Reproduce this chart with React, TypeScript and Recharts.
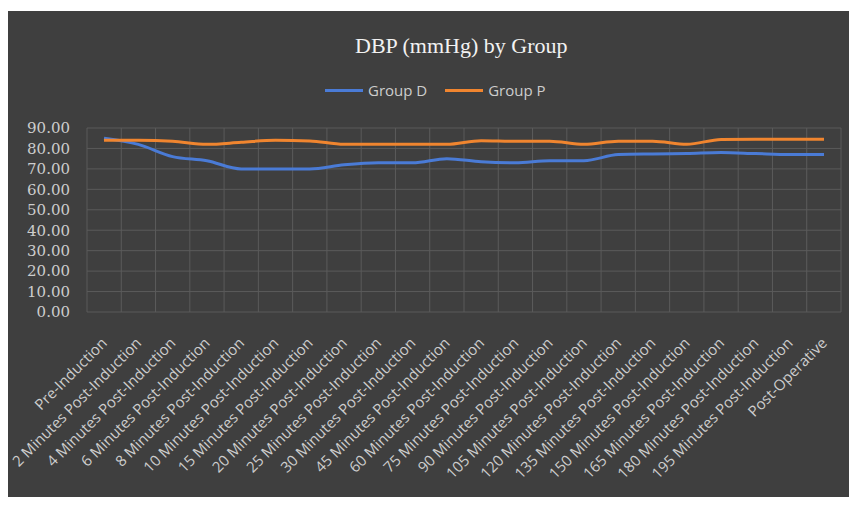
import React from 'react';
import { LineChart, Line, XAxis, YAxis, CartesianGrid } from 'recharts';

const CATEGORIES = [
  'Pre-Induction',
  '2 Minutes Post-Induction',
  '4 Minutes Post-Induction',
  '6 Minutes Post-Induction',
  '8 Minutes Post-Induction',
  '10 Minutes Post-Induction',
  '15 Minutes Post-Induction',
  '20 Minutes Post-Induction',
  '25 Minutes Post-Induction',
  '30 Minutes Post-Induction',
  '45 Minutes Post-Induction',
  '60 Minutes Post-Induction',
  '75 Minutes Post-Induction',
  '90 Minutes Post-Induction',
  '105 Minutes Post-Induction',
  '120 Minutes Post-Induction',
  '135 Minutes Post-Induction',
  '150 Minutes Post-Induction',
  '165 Minutes Post-Induction',
  '180 Minutes Post-Induction',
  '195 Minutes Post-Induction',
  'Post-Operative',
];

const GROUP_D = [85, 82, 76, 74, 70, 70, 70, 72, 73, 73, 75, 73.5, 73, 74, 74, 77, 77.3, 77.5, 78, 77.5, 77, 77];
const GROUP_P = [84, 84, 83.5, 82, 83, 84, 83.7, 82, 82, 82, 82, 83.8, 83.5, 83.5, 82, 83.5, 83.5, 82, 84.4, 84.5, 84.5, 84.5];

const Y_TICKS = [0, 10, 20, 30, 40, 50, 60, 70, 80, 90];

const SERIES = [
  { key: 'groupD', name: 'Group D', color: '#4a7bd6' },
  { key: 'groupP', name: 'Group P', color: '#f0852f' },
];

const data = CATEGORIES.map((name, i) => ({ name, groupD: GROUP_D[i], groupP: GROUP_P[i] }));

const BG = '#3f3f3f';
const GRID = '#5b5b5b';
const TEXT = '#cdcdcd';

const XTick = (props: any) => {
  const { x, y, payload } = props;
  const tx = x + 4;
  const ty = y + 32;
  return (
    <text
      x={tx}
      y={ty}
      transform={`rotate(-45, ${tx}, ${ty})`}
      textAnchor="end"
      fill={TEXT}
      fontSize={15}
      fontFamily="'Open Sans', sans-serif"
    >
      {payload.value}
    </text>
  );
};

export default function App() {
  return (
    <div style={{ position: 'relative', width: 857, height: 505, margin: -8, background: '#ffffff', overflow: 'hidden' }}>
      <div style={{ position: 'absolute', left: 8, top: 11, width: 849, height: 494, background: BG }}>
        <div
          style={{
            position: 'absolute',
            left: 347,
            top: 24,
            fontFamily: "'Liberation Serif', serif",
            fontSize: 22,
            lineHeight: '22px',
            color: '#f2f2f2',
            whiteSpace: 'nowrap',
          }}
        >
          DBP (mmHg) by Group
        </div>
        {/* legend */}
        <div
          style={{
            position: 'absolute',
            left: 317,
            top: 68,
            height: 22,
            display: 'flex',
            alignItems: 'center',
          }}
        >
          {SERIES.map((s) => (
            <div key={s.key} style={{ display: 'flex', alignItems: 'center', marginRight: 18 }}>
              <div style={{ width: 38, height: 3, backgroundColor: s.color, marginRight: 5 }} />
              <span style={{ color: TEXT, fontSize: 15, fontFamily: "'Open Sans', sans-serif" }}>{s.name}</span>
            </div>
          ))}
        </div>
        <LineChart width={849} height={494} data={data} margin={{ top: 117, right: 16, bottom: 13, left: 0 }}>
          <CartesianGrid
            stroke={GRID}
            verticalCoordinatesGenerator={({ offset }: any) =>
              Array.from({ length: CATEGORIES.length + 1 }, (_, i) => offset.left + (i * offset.width) / CATEGORIES.length)
            }
          />
          <XAxis
            dataKey="name"
            interval={0}
            padding={{ left: 17, right: 17 }}
            axisLine={false}
            tickLine={false}
            tickSize={0}
            tickMargin={0}
            height={180}
            tick={<XTick />}
          />
          <YAxis
            width={79}
            domain={[0, 90]}
            ticks={Y_TICKS}
            interval={0}
            axisLine={false}
            tickLine={false}
            tickSize={0}
            tickMargin={17}
            tickFormatter={(v: number) => v.toFixed(2)}
            tick={{ fill: TEXT, fontSize: 15, fontFamily: "'DejaVu Serif', serif" }}
          />
          {SERIES.map((s) => (
            <Line
              key={s.key}
              type="monotone"
              dataKey={s.key}
              name={s.name}
              stroke={s.color}
              strokeWidth={3}
              dot={false}
              isAnimationActive={false}
            />
          ))}
        </LineChart>
      </div>
    </div>
  );
}
